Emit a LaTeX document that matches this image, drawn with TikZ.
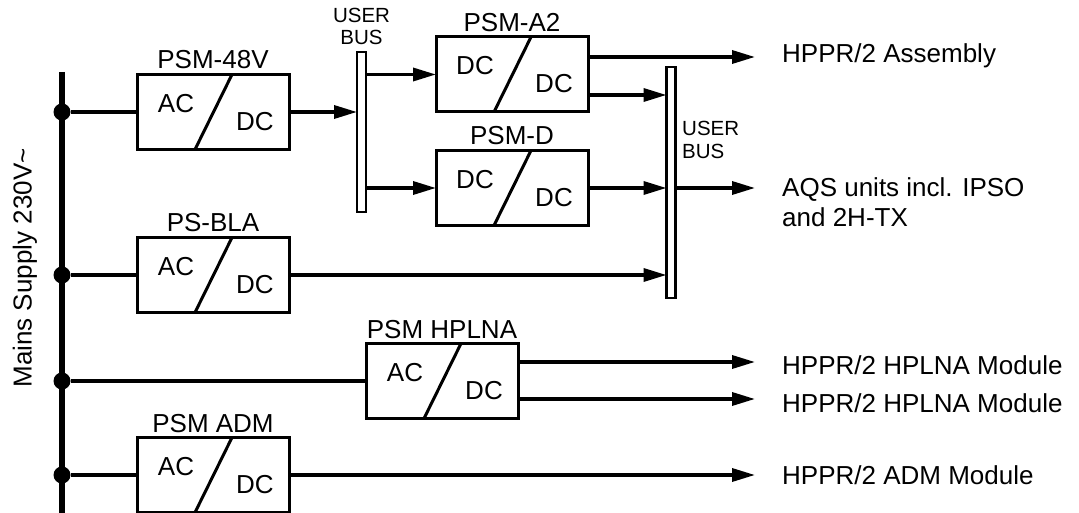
\documentclass[tikz,border=0pt]{standalone}
\usepackage{fontspec}
\setmainfont{Liberation Sans}
\usetikzlibrary{arrows.meta}
\begin{document}
\begin{tikzpicture}[x=1pt,y=-1pt,
  conv/.style={draw, line width=3pt, minimum width=152pt, minimum height=75pt, inner sep=0pt, outer sep=0pt},
  convline/.style={line width=3pt},
  bar/.style={draw, line width=2.6pt, fill=white, minimum width=9pt, inner sep=0pt, outer sep=0pt},
  dot/.style={circle, fill=black, inner sep=0pt, outer sep=0pt, minimum size=17pt},
  wire/.style={line width=3.4pt},
  arr/.style={wire, -{Triangle[length=23pt,width=13pt]}},
  big/.style={font=\fontsize{26}{30}\selectfont, inner sep=0pt},
  small/.style={font=\fontsize{20.5}{24}\selectfont, inner sep=0pt},
]
\useasboundingbox[fill=white] (0,0) rectangle (1079,513);

\newcommand\psbox[6]{%
  \node[conv] (#1) at (#2,#3) {};
  \draw[convline] ([xshift=-18pt]#1.south) -- ([xshift=19pt]#1.north);
  \node[big] at ([xshift=-37pt,yshift=8.5pt]#1.center) {#5};
  \node[big] at ([xshift=42pt,yshift=-9.5pt]#1.center) {#6};
  \node[big,anchor=base] at ([yshift=5.5pt]#1.north) {#4};
}

% mains bus
\coordinate (mtop) at (62,72);
\coordinate (mbot) at (62,513);
\draw[line width=5.5pt] (mtop) -- (mbot);
\node[big, rotate=90, anchor=base] (mains) at (31.5,268) {Mains Supply 230V\textasciitilde};

\node[dot] (d1) at (62,112) {};
\node[dot] (d2) at (62,275) {};
\node[dot] (d3) at (62,381) {};
\node[dot] (d4) at (62,475) {};

% converters
\psbox{b48}{213}{112}{PSM-48V}{AC}{DC}
\psbox{bla}{213}{275}{PS-BLA}{AC}{DC}
\psbox{a2}{512}{74.5}{PSM-A2}{DC}{DC}
\psbox{psd}{512}{188}{PSM-D}{DC}{DC}
\psbox{hpl}{442}{381}{PSM HPLNA}{AC}{DC}
\psbox{adm}{213}{475}{PSM ADM}{AC}{DC}

% user buses
\node[bar, minimum height=160pt] (ub1) at (361.5,132) {};
\node[small, anchor=base] (ub1b) at ([yshift=7pt]ub1.north) {BUS};
\node[small, anchor=base] (ub1u) at ([yshift=22pt]ub1b.base) {USER};

\node[bar, minimum height=231pt] (ub2) at (671,182.5) {};
\node[small, anchor=base west] (ub2u) at (682,136) {USER};
\node[small, anchor=base west] (ub2b) at (682,159) {BUS};

% free ends and outputs
\coordinate (e1) at (755,57);
\coordinate (e2) at (755,188);
\coordinate (e3) at (755,362);
\coordinate (e4) at (755,399);
\coordinate (e5) at (755,475);
\coordinate (a2o1) at ([yshift=17.5pt]a2.east);
\coordinate (a2o2) at ([yshift=-20.5pt]a2.east);
\coordinate (hpo1) at ([yshift=19pt]hpl.east);
\coordinate (hpo2) at ([yshift=-18pt]hpl.east);
\node[big, anchor=base west] (t1) at (782,63) {HPPR/2 Assembly};
\node[big, anchor=base west] (t2) at (782,197) {AQS units incl. IPSO};
\node[big, anchor=base west] (t2b) at (782,227) {and 2H-TX};
\node[big, anchor=base west] (t3) at (782,374) {HPPR/2 HPLNA Module};
\node[big, anchor=base west] (t4) at (782,412) {HPPR/2 HPLNA Module};
\node[big, anchor=base west] (t5) at (782,484) {HPPR/2 ADM Module};

% mains connections
\draw[wire] (d1) -- (b48.west);
\draw[wire] (d2) -- (bla.west);
\draw[wire] (d3) -- (hpl.west);
\draw[wire] (d4) -- (adm.west);

% PSM-48V to user bus 1
\draw[arr] (b48.east) -- (ub1.west |- b48.east);
\draw[arr] (ub1.east |- a2.west) -- (a2.west);
\draw[arr] (ub1.east |- psd.west) -- (psd.west);

% PSM-A2 outputs
\draw[arr] (a2o1) -- (e1);
\draw[arr] (a2o2) -- (ub2.west |- a2o2);
% PSM-D output
\draw[arr] (psd.east) -- (ub2.west |- psd.east);
\draw[arr] (ub2.east |- psd.east) -- (e2);
% PS-BLA
\draw[arr] (bla.east) -- (ub2.west |- bla.east);
% HPLNA
\draw[arr] (hpo1) -- (e3);
\draw[arr] (hpo2) -- (e4);
% ADM
\draw[arr] (adm.east) -- (e5);
\end{tikzpicture}
\end{document}
